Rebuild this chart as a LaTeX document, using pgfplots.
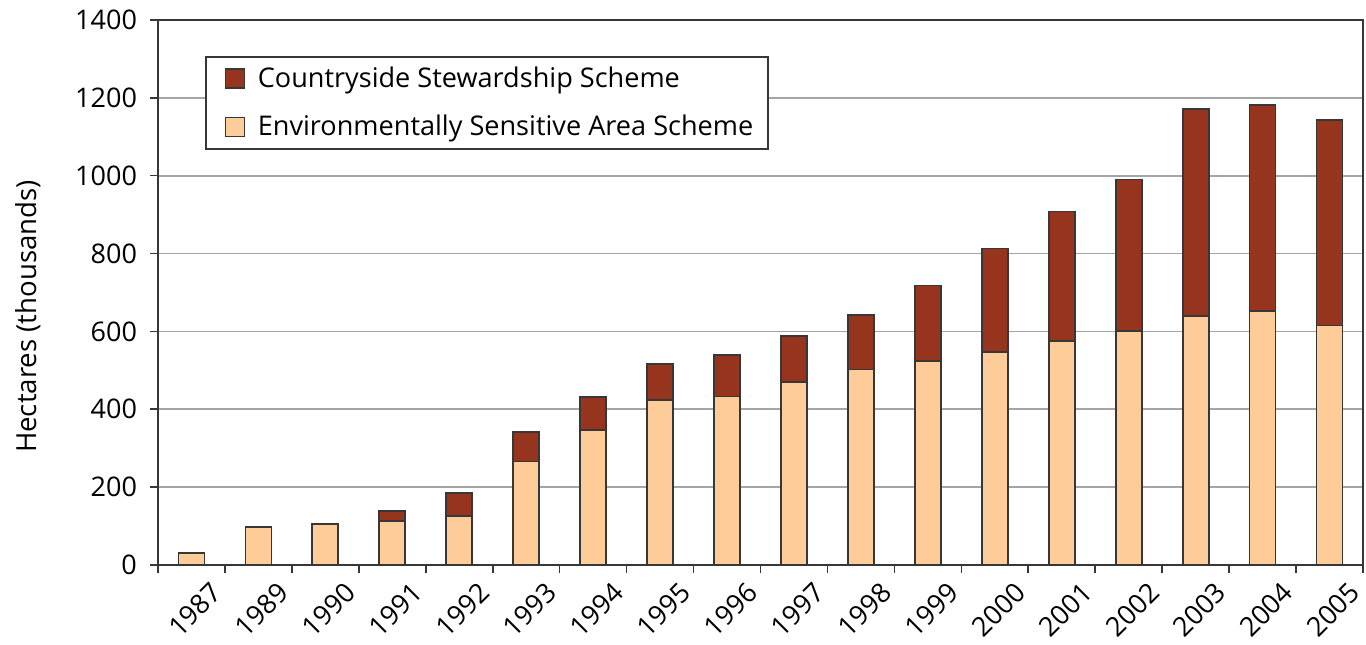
\documentclass[border=0pt]{standalone}
\usepackage{fontspec}
\setmainfont{Open Sans}
\usepackage{pgfplots}
\pgfplotsset{compat=1.18}
\definecolor{css}{RGB}{150,52,30}
\definecolor{esa}{RGB}{254,204,153}
\definecolor{edge}{RGB}{55,55,55}
\definecolor{gridc}{RGB}{165,165,165}
\pgfplotstableread{
x esa css
0 30 0
1 97 0
2 106 0
3 113 25
4 125 59
5 266 75
6 346 86
7 424 92
8 433 106
9 470 119
10 502 141
11 523 195
12 548 265
13 576 332
14 602 388
15 639 533
16 652 529
17 615 529
}\datatable
\begin{document}
\begin{tikzpicture}
\begin{axis}[
  scale only axis, width=602.5pt, height=272.5pt,
  ybar stacked, bar width=13pt,
  xmin=-0.5, xmax=17.5, ymin=0, ymax=1400,
  ytick={0,200,...,1400},
  xtick={0,...,17},
  xticklabels={1987,1989,1990,1991,1992,1993,1994,1995,1996,1997,1998,1999,2000,2001,2002,2003,2004,2005},
  minor xtick={-0.5,0.5,...,17.5},
  major x tick style={draw=none},
  tick pos=left, tick align=outside,
  major tick length=4pt, minor tick length=4pt,
  tick style={edge, line width=0.8pt},
  x tick label style={rotate=45, anchor=north east, inner sep=0.5pt, xshift=4.5pt, yshift=-8.5pt},
  y tick label style={xshift=-3pt},
  ticklabel style={font=\fontsize{13.5}{15}\selectfont},
  /pgf/number format/assume math mode=true,
  /pgf/number format/1000 sep={},
  ymajorgrids, grid style={gridc, line width=0.9pt},
  axis line style={edge, line width=0.8pt},
  ylabel={Hectares (thousands)},
  ylabel style={font=\fontsize{13.8}{15}\selectfont, yshift=10.5pt, xshift=-12pt},
  legend style={at={(0.039,0.934)}, anchor=north west, draw=edge, line width=0.8pt,
    font=\fontsize{13.55}{16}\selectfont, row sep=8.5pt, inner xsep=5.5pt, inner ysep=3pt},
  legend cell align=left,
  reverse legend,
  legend image code/.code={\path[draw=none, fill=none] (0pt,0pt) -- (18.5pt,0pt);\draw[#1, draw=edge, line width=0.6pt] (4.5pt,-4.75pt) rectangle (14pt,4.75pt);},
]
\addplot[fill=esa, draw=edge, line width=0.9pt] table[x=x, y=esa] {\datatable};
\addlegendentry{Environmentally Sensitive Area Scheme}
\addplot[fill=css, draw=edge, line width=0.9pt] table[x=x, y=css] {\datatable};
\addlegendentry{Countryside Stewardship Scheme}
\end{axis}
\pgfresetboundingbox
\path[use as bounding box] ([xshift=-79pt,yshift=-40pt]current axis.south west) rectangle ([xshift=1.5pt,yshift=10pt]current axis.north east);
\end{tikzpicture}
\end{document}
